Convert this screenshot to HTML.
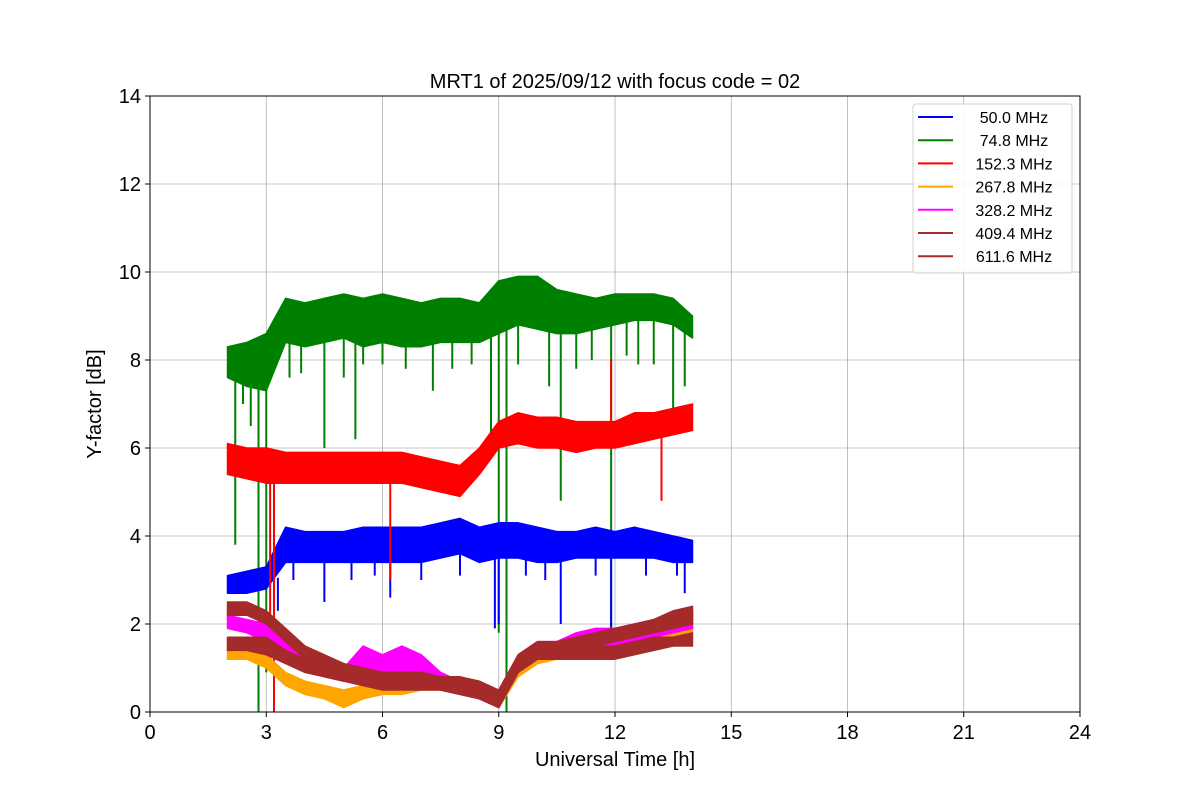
<!DOCTYPE html>
<html><head><meta charset="utf-8"><style>
body{margin:0;background:#fff}
svg{font-family:"Liberation Sans","DejaVu Sans",sans-serif}
</style></head><body>
<svg id="chart" width="1200" height="800"></svg>
<script>
const times=[2,2.5,3,3.5,4,4.5,5,5.5,6,6.5,7,7.5,8,8.5,9,9.5,10,10.5,11,11.5,12,12.5,13,13.5,14];
const seriesNames=[" 50.0 MHz"," 74.8 MHz","152.3 MHz","267.8 MHz","328.2 MHz","409.4 MHz","611.6 MHz"];
const seriesColors=["#0000ff","#008000","#ff0000","#ffa500","#ff00ff","#a52a2a","#a52a2a"];
const blueLo=[2.7,2.7,2.8,3.4,3.4,3.4,3.4,3.4,3.4,3.4,3.4,3.5,3.6,3.4,3.5,3.5,3.4,3.4,3.5,3.5,3.5,3.5,3.5,3.4,3.4];
const blueHi=[3.1,3.2,3.3,4.2,4.1,4.1,4.1,4.2,4.2,4.2,4.2,4.3,4.4,4.2,4.3,4.3,4.2,4.1,4.1,4.2,4.1,4.2,4.1,4.0,3.9];
const greenLo=[7.6,7.4,7.3,8.4,8.3,8.4,8.5,8.3,8.4,8.3,8.3,8.4,8.4,8.4,8.6,8.8,8.7,8.6,8.6,8.7,8.8,8.9,8.9,8.8,8.5];
const greenHi=[8.3,8.4,8.6,9.4,9.3,9.4,9.5,9.4,9.5,9.4,9.3,9.4,9.4,9.3,9.8,9.9,9.9,9.6,9.5,9.4,9.5,9.5,9.5,9.4,9.0];
const redLo=[5.4,5.3,5.2,5.2,5.2,5.2,5.2,5.2,5.2,5.2,5.1,5.0,4.9,5.4,6.0,6.1,6.0,6.0,5.9,6.0,6.0,6.1,6.2,6.3,6.4];
const redHi=[6.1,6.0,6.0,5.9,5.9,5.9,5.9,5.9,5.9,5.9,5.8,5.7,5.6,6.0,6.6,6.8,6.7,6.7,6.6,6.6,6.6,6.8,6.8,6.9,7.0];
const orangeLo=[1.2,1.2,1.0,0.6,0.4,0.3,0.1,0.3,0.4,0.4,0.5,0.5,0.4,0.3,0.1,0.8,1.1,1.2,1.3,1.4,1.4,1.5,1.6,1.7,1.8];
const orangeHi=[1.5,1.5,1.3,0.9,0.7,0.6,0.5,0.6,0.7,0.7,0.8,0.8,0.8,0.7,0.4,1.2,1.5,1.6,1.7,1.8,1.8,1.9,2.0,2.0,2.1];
const magentaLo=[1.9,1.8,1.6,1.3,1.0,0.8,0.7,0.7,0.6,0.8,0.6,0.5,0.4,0.3,0.1,0.9,1.2,1.2,1.4,1.5,1.5,1.6,1.7,1.8,1.9];
const magentaHi=[2.2,2.1,2.0,1.6,1.3,1.1,1.0,1.5,1.3,1.5,1.3,0.9,0.7,0.6,0.4,1.3,1.6,1.6,1.8,1.9,1.9,2.0,2.1,2.2,2.3];
const brown409Lo=[1.4,1.4,1.3,1.1,0.9,0.8,0.7,0.6,0.5,0.5,0.5,0.5,0.4,0.3,0.1,0.9,1.2,1.2,1.2,1.2,1.2,1.3,1.4,1.5,1.5];
const brown409Hi=[1.7,1.7,1.7,1.4,1.2,1.1,1.0,0.9,0.8,0.8,0.8,0.8,0.7,0.6,0.4,1.2,1.5,1.5,1.5,1.5,1.5,1.6,1.7,1.7,1.8];
const brown611Lo=[2.2,2.2,2.0,1.6,1.2,1.0,0.8,0.7,0.6,0.6,0.6,0.5,0.5,0.4,0.1,1.0,1.2,1.3,1.4,1.5,1.6,1.7,1.8,1.9,2.0];
const brown611Hi=[2.5,2.5,2.3,1.9,1.5,1.3,1.1,1.0,0.9,0.9,0.9,0.8,0.8,0.7,0.5,1.3,1.6,1.6,1.7,1.8,1.9,2.0,2.1,2.3,2.4];
const greenSpikes=[[2.2,3.8],[2.4,7.0],[2.6,6.5],[2.8,0],[3.0,0.9],[3.6,7.6],[3.9,7.7],[4.5,6.0],[5.0,7.6],[5.3,6.2],[5.5,7.9],[6.0,7.9],[6.6,7.8],[7.3,7.3],[7.8,7.8],[8.3,7.9],[8.8,6.3],[9.0,1.8],[9.2,0],[9.5,7.9],[10.3,7.4],[10.6,4.8],[11.0,7.8],[11.4,8.0],[11.9,1.8],[12.3,8.1],[12.6,7.9],[13.0,7.9],[13.5,6.4],[13.8,7.4]];
const blueSpikes=[[3.3,2.3],[3.7,3.0],[4.5,2.5],[5.2,3.0],[5.8,3.1],[6.2,2.6],[7.0,3.0],[8.0,3.1],[8.9,1.9],[9.0,2.0],[9.7,3.1],[10.2,3.0],[10.6,2.0],[11.5,3.1],[11.9,1.8],[12.8,3.1],[13.6,3.1],[13.8,2.7]];
const redSpikes=[[3.1,1.1],[3.2,0],[6.2,3.0],[11.9,8.0],[13.2,4.8]];
const xTicks=[0,3,6,9,12,15,18,21,24];
const yTicks=[0,2,4,6,8,10,12,14];

const NS="http://www.w3.org/2000/svg";
const svg=document.getElementById('chart');
const L=150,R=1080,T=96,B=712;
const xs=t=>L+(t/24)*(R-L);
const ys=v=>B-(v/14)*(B-T);
function mk(tag,attrs,parent){const e=document.createElementNS(NS,tag);for(const k in attrs)e.setAttribute(k,attrs[k]);(parent||svg).appendChild(e);return e;}

const grid=mk('g',{});


xTicks.forEach(t=>{const l=mk('line',{x1:xs(t),x2:xs(t),y1:T,y2:B,stroke:'#b0b0b0','stroke-width':0.8},grid);

});
yTicks.forEach(v=>{const l=mk('line',{x1:L,x2:R,y1:ys(v),y2:ys(v),stroke:'#b0b0b0','stroke-width':0.8},grid);

});

const clip=mk('clipPath',{id:'pc'});mk('rect',{x:L,y:T,width:R-L,height:B-T},clip);
const plot=mk('g',{'clip-path':'url(#pc)'});


function band(lo,hi,color,name,spikes){
  const g=mk('g',{},plot);
  
  
  let pts=times.map((t,i)=>xs(t)+','+ys(hi[i]));
  pts=pts.concat(times.map((t,i)=>xs(t)+','+ys(lo[i])).reverse());
  const p=mk('polygon',{points:pts.join(' '),fill:color,stroke:color,'stroke-width':1.5,'stroke-linejoin':'round'},g);
  
  
  (spikes||[]).forEach(s=>{
    let i=0;while(i<times.length-1&&times[i+1]<=s[0])i++;
    const base=(lo[i]+hi[i])/2;
    const l=mk('line',{x1:xs(s[0]),x2:xs(s[0]),y1:ys(base),y2:ys(s[1]),stroke:color,'stroke-width':2},g);
    
    
  });
}
band(greenLo,greenHi,seriesColors[1],'series-74-8-mhz',greenSpikes);
band(blueLo,blueHi,seriesColors[0],'series-50-0-mhz',blueSpikes);
band(redLo,redHi,seriesColors[2],'series-152-3-mhz',redSpikes);
band(orangeLo,orangeHi,seriesColors[3],'series-267-8-mhz',[]);
band(magentaLo,magentaHi,seriesColors[4],'series-328-2-mhz',[]);
band(brown409Lo,brown409Hi,seriesColors[5],'series-409-4-mhz',[]);
band(brown611Lo,brown611Hi,seriesColors[6],'series-611-6-mhz',[]);

const fr=mk('rect',{x:L,y:T,width:R-L,height:B-T,fill:'none',stroke:'#000','stroke-width':1});



xTicks.forEach(t=>{mk('line',{x1:xs(t),x2:xs(t),y1:B,y2:B+5,stroke:'#000'});
const tx=mk('text',{x:xs(t),y:B+27,'text-anchor':'middle','font-size':20});tx.textContent=t;

});
yTicks.forEach(v=>{mk('line',{x1:L-5,x2:L,y1:ys(v),y2:ys(v),stroke:'#000'});
const tx=mk('text',{x:L-9,y:ys(v)+7,'text-anchor':'end','font-size':20});tx.textContent=v;

});

let e=mk('text',{x:615,y:88,'text-anchor':'middle','font-size':20});e.textContent='MRT1 of 2025/09/12 with focus code = 02';


e=mk('text',{x:615,y:766,'text-anchor':'middle','font-size':20});e.textContent='Universal Time [h]';


e=mk('text',{x:101,y:404,'text-anchor':'middle','font-size':20,transform:'rotate(-90 101 404)'});e.textContent='Y-factor [dB]';



const lg=mk('g',{});


mk('rect',{x:913,y:104,width:159,height:169,rx:3,fill:'#fff','fill-opacity':0.85,stroke:'#d0d0d0'},lg);
seriesNames.forEach((n,i)=>{
  const y=117+i*23.2;
  const en=mk('g',{},lg);
  
  
  mk('line',{x1:918,x2:953,y1:y,y2:y,stroke:seriesColors[i],'stroke-width':2},en);
  const t=mk('text',{x:1014,y:y+6,'text-anchor':'middle','font-size':16,'xml:space':'preserve'},en);t.textContent=n;
});
</script>
</body></html>
